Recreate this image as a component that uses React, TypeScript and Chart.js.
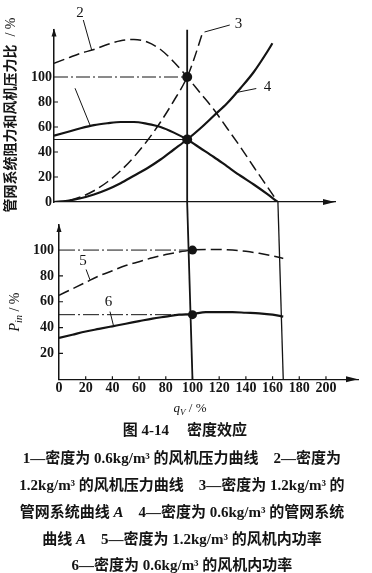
import React, { useEffect, useRef } from 'react';
import { Chart, registerables } from 'chart.js';

Chart.register(...registerables);

// ---------- data: top chart (pressure ratio vs flow) ----------
const Q_FAN = [0, 10, 20, 30, 40, 50, 60, 70, 80, 90, 100, 110, 120, 130, 140, 150, 160, 168];
const FAN_P_06 = [53, 56, 59, 61.5, 63, 64, 64, 62.5, 60, 55.5, 50, 43, 36, 28.5, 21, 14, 6.5, 0];
const FAN_P_12 = [111, 115, 119, 122, 126, 129, 130, 128, 122, 112, 100, 87, 74, 59, 44, 28, 12.5, 0];
const Q_SYS_12 = [0, 10, 20, 30, 40, 50, 60, 70, 80, 90, 100, 105, 112];
const SYS_12 = [0, 1, 4, 9, 16, 25, 36, 49, 64, 81, 100, 114, 137];
const Q_SYS_06 = [0, 10, 20, 30, 40, 50, 60, 70, 80, 90, 100, 110, 120, 130, 140, 150, 160, 164];
const SYS_06 = [0, 1, 3, 6, 10, 15, 21, 27, 34, 42, 50, 59, 69, 79, 91, 104, 120, 127];

// ---------- data: bottom chart (internal power vs flow) ----------
const Q_POW = [0, 10, 20, 30, 40, 50, 60, 70, 80, 90, 100, 110, 120, 130, 140, 150, 160, 168];
const POW_12 = [65, 70, 75, 80, 84, 88, 91, 94, 96.5, 98.5, 100, 100.5, 100.5, 100, 99, 97.5, 95.5, 93.5];
const POW_06 = [32, 34.5, 37, 39, 41, 43, 45, 47, 48.5, 50, 50.5, 52, 52, 52, 51.5, 51, 50, 48.5];

// reference values
const Q_OP = 100;
const Q_ZERO = 168;
const LEVEL_HI = 100;
const LEVEL_LO = 50;

// axes
const TOP_X_MAX = 211;
const TOP_Y_MAX = 138;
const BOT_X_MAX = 224;
const BOT_Y_MAX = 119.4;
const TOP_Y_TICKS = [0, 20, 40, 60, 80, 100];
const BOT_Y_TICKS = [20, 40, 60, 80, 100];
const X_TICKS = [0, 20, 40, 60, 80, 100, 120, 140, 160, 180, 200];

// curve labels (data units) and leader lines
const TOP_LABEL_TEXT = ['2', '3', '4'];
const TOP_LABEL_X = [19.5, 138.5, 160.4];
const TOP_LABEL_Y = [151, 142, 92.2];
const TOP_LEADERS = [
  [22, 145.6, 28.3, 121.6],
  [15.8, 91, 27, 61.6],
  [113, 136, 132, 141.6],
  [136, 87.4, 151.9, 90.8],
];
const BOT_LABEL_TEXT = ['5', '6'];
const BOT_LABEL_X = [18, 37];
const BOT_LABEL_Y = [91.2, 59.7];
const BOT_LEADERS = [
  [20.3, 85, 23.2, 77],
  [38.2, 52.4, 40.7, 42],
];

const CAPTION_TITLE = ['图 4-14', '密度效应'];
const CAPTION_LINES = [
  '1—密度为 0.6kg/m³ 的风机压力曲线\u20032—密度为',
  '1.2kg/m³ 的风机压力曲线\u20033—密度为 1.2kg/m³ 的',
  '管网系统曲线 A\u20034—密度为 0.6kg/m³ 的管网系统',
  '曲线 A\u20035—密度为 1.2kg/m³ 的风机内功率',
  '6—密度为 0.6kg/m³ 的风机内功率',
];
const CAPTION_Y = [458, 485, 512, 539, 565];

const INK = '#141414';
const SERIF = '"Liberation Serif", "Times New Roman", serif';
const CJK = '"Liberation Serif", "Noto Sans CJK SC", sans-serif';

const pts = (xs: number[], ys: number[]) => xs.map((x, i) => ({ x, y: ys[i] }));
const seg = (x1: number, y1: number, x2: number, y2: number) => [
  { x: x1, y: y1 },
  { x: x2, y: y2 },
];

const lineDs = (data: any[], width: number, dash: number[] = [], extra: any = {}) => ({
  data,
  borderColor: INK,
  borderWidth: width,
  borderDash: dash,
  pointRadius: 0,
  fill: false,
  tension: 0,
  ...extra,
});

const curveDs = (data: any[], width: number, dash: number[] = []) =>
  lineDs(data, width, dash, { cubicInterpolationMode: 'monotone' });

const dotDs = (data: any[], r: number) => ({
  data,
  showLine: false,
  pointRadius: r,
  pointBackgroundColor: INK,
  pointBorderWidth: 0,
  borderColor: INK,
  clip: false,
});

function decor(opts: {
  yTicks: number[];
  xTicks: number[];
  labels: { t: string[]; x: number[]; y: number[] };
  leaders: number[][];
  yArrow: number;
  xArrowLen: number;
}) {
  return {
    id: 'decor',
    afterDraw(chart: any) {
      const { ctx, chartArea } = chart;
      const xs = chart.scales.x;
      const ys = chart.scales.y;
      const x0 = chartArea.left;
      const y0 = chartArea.bottom;
      ctx.save();
      ctx.fillStyle = INK;
      ctx.strokeStyle = INK;
      // x arrow
      ctx.beginPath();
      ctx.moveTo(chartArea.right, y0);
      ctx.lineTo(chartArea.right - opts.xArrowLen, y0 - 3);
      ctx.lineTo(chartArea.right - opts.xArrowLen, y0 + 3);
      ctx.closePath();
      ctx.fill();
      // y arrow
      ctx.beginPath();
      ctx.moveTo(x0, chartArea.top - 1);
      ctx.lineTo(x0 - 2.5, chartArea.top + opts.yArrow);
      ctx.lineTo(x0 + 2.5, chartArea.top + opts.yArrow);
      ctx.closePath();
      ctx.fill();
      // inward ticks
      ctx.lineWidth = 1.2;
      ctx.beginPath();
      opts.yTicks.forEach((v) => {
        const py = ys.getPixelForValue(v);
        ctx.moveTo(x0, py);
        ctx.lineTo(x0 + 4, py);
      });
      opts.xTicks.forEach((v) => {
        const px = xs.getPixelForValue(v);
        ctx.moveTo(px, y0);
        ctx.lineTo(px, y0 - 3);
      });
      ctx.stroke();
      // leaders
      ctx.lineWidth = 1;
      ctx.beginPath();
      opts.leaders.forEach((l) => {
        ctx.moveTo(xs.getPixelForValue(l[0]), ys.getPixelForValue(l[1]));
        ctx.lineTo(xs.getPixelForValue(l[2]), ys.getPixelForValue(l[3]));
      });
      ctx.stroke();
      // labels
      ctx.font = '15px ' + SERIF;
      ctx.textAlign = 'center';
      ctx.textBaseline = 'middle';
      opts.labels.t.forEach((t, i) => {
        ctx.fillText(t, xs.getPixelForValue(opts.labels.x[i]), ys.getPixelForValue(opts.labels.y[i]));
      });
      ctx.restore();
    },
  };
}

const tickFont = { family: SERIF, weight: 'bold' as const, size: 14 };
const noGrid = { display: false, drawTicks: false, tickLength: 0 };

function topConfig(): any {
  return {
    type: 'line',
    data: {
      datasets: [
        lineDs(seg(0, LEVEL_HI, Q_OP, LEVEL_HI), 1, [14, 3, 2, 3]),
        lineDs(seg(0, LEVEL_LO, Q_OP, LEVEL_LO), 1),
        lineDs(seg(Q_OP, 0, Q_OP, TOP_Y_MAX), 1.8),
        curveDs(pts(Q_FAN, FAN_P_06), 2.2),
        curveDs(pts(Q_FAN, FAN_P_12), 1.5, [11, 5]),
        curveDs(pts(Q_SYS_12, SYS_12), 1.5, [11, 5]),
        curveDs(pts(Q_SYS_06, SYS_06), 2.2),
        dotDs([{ x: Q_OP, y: LEVEL_HI }, { x: Q_OP, y: LEVEL_LO }], 5),
      ],
    },
    options: {
      responsive: false,
      animation: false,
      events: [],
      layout: { padding: { left: 0, top: 29.5, right: 37, bottom: 371 } },
      plugins: { legend: { display: false }, tooltip: { enabled: false } },
      scales: {
        x: {
          type: 'linear',
          min: 0,
          max: TOP_X_MAX,
          grid: noGrid,
          border: { display: true, color: INK, width: 1.2, dash: [12, 3, 2, 3] },
          ticks: { display: false },
          afterFit: (s: any) => {
            s.height = 0;
          },
        },
        y: {
          type: 'linear',
          min: 0,
          max: TOP_Y_MAX,
          grid: noGrid,
          border: { display: true, color: INK, width: 1.5 },
          ticks: { color: INK, font: tickFont, padding: 2 },
          afterBuildTicks: (s: any) => {
            s.ticks = TOP_Y_TICKS.map((v) => ({ value: v }));
          },
          afterFit: (s: any) => {
            s.width = 54;
          },
        },
      },
    },
    plugins: [
      decor({
        yTicks: [20, 40, 60, 80],
        xTicks: [],
        labels: { t: TOP_LABEL_TEXT, x: TOP_LABEL_X, y: TOP_LABEL_Y },
        leaders: TOP_LEADERS,
        yArrow: 7,
        xArrowLen: 12,
      }),
    ],
  };
}

function botConfig(): any {
  const topEdge = 137.4; // value at the upper chart's baseline
  return {
    type: 'line',
    data: {
      datasets: [
        lineDs(seg(0, LEVEL_HI, Q_OP, LEVEL_HI), 1, [16, 3, 2, 3]),
        lineDs(seg(0, LEVEL_LO, Q_OP, LEVEL_LO), 1, [16, 3, 2, 3]),
        lineDs(seg(Q_OP, 0, Q_OP - 4, topEdge), 1.8, [], { clip: false }),
        lineDs(seg(Q_ZERO, 0, Q_ZERO - 4, topEdge), 1.3, [], { clip: false }),
        curveDs(pts(Q_POW, POW_12), 1.5, [11, 5]),
        curveDs(pts(Q_POW, POW_06), 2.2),
        dotDs([{ x: Q_OP, y: LEVEL_HI }, { x: Q_OP, y: LEVEL_LO }], 4.5),
      ],
    },
    options: {
      responsive: false,
      animation: false,
      events: [],
      layout: { padding: { left: 0, top: 225, right: 14, bottom: 173.7 } },
      plugins: { legend: { display: false }, tooltip: { enabled: false } },
      scales: {
        x: {
          type: 'linear',
          min: 0,
          max: BOT_X_MAX,
          grid: noGrid,
          border: { display: true, color: INK, width: 1.3 },
          ticks: { color: INK, font: tickFont, padding: 1, maxRotation: 0 },
          afterBuildTicks: (s: any) => {
            s.ticks = X_TICKS.map((v) => ({ value: v }));
          },
          afterFit: (s: any) => {
            s.height = 20;
          },
        },
        y: {
          type: 'linear',
          min: 0,
          max: BOT_Y_MAX,
          grid: noGrid,
          border: { display: true, color: INK, width: 1.5 },
          ticks: { color: INK, font: tickFont, padding: 5 },
          afterBuildTicks: (s: any) => {
            s.ticks = BOT_Y_TICKS.map((v) => ({ value: v }));
          },
          afterFit: (s: any) => {
            s.width = 59;
          },
        },
      },
    },
    plugins: [
      decor({
        yTicks: [20, 40, 60, 80],
        xTicks: X_TICKS.slice(1),
        labels: { t: BOT_LABEL_TEXT, x: BOT_LABEL_X, y: BOT_LABEL_Y },
        leaders: BOT_LEADERS,
        yArrow: 7,
        xArrowLen: 12,
      }),
    ],
  };
}

function renderCaption(s: string) {
  const parts = s.split(/( A)/);
  return parts.map((p, i) =>
    p === ' A' ? (
      <i key={i}> A</i>
    ) : (
      <span key={i}>{p}</span>
    )
  );
}

const abs: React.CSSProperties = { position: 'absolute' };

export default function App() {
  const topRef = useRef<HTMLCanvasElement>(null);
  const botRef = useRef<HTMLCanvasElement>(null);

  useEffect(() => {
    const top = new Chart(topRef.current as HTMLCanvasElement, topConfig());
    const bot = new Chart(botRef.current as HTMLCanvasElement, botConfig());
    return () => {
      top.destroy();
      bot.destroy();
    };
  }, []);

  const rotated = (cx: number, cy: number): React.CSSProperties => ({
    ...abs,
    left: cx,
    top: cy,
    transform: 'translate(-50%, -50%) rotate(-90deg)',
    whiteSpace: 'nowrap',
  });

  return (
    <div
      style={{
        position: 'absolute',
        left: 0,
        top: 0,
        width: 372,
        height: 573,
        background: '#fff',
        overflow: 'hidden',
        color: INK,
      }}
    >
      <canvas ref={topRef} width={372} height={573} style={{ ...abs, left: 0, top: 0 }} />
      <canvas ref={botRef} width={372} height={573} style={{ ...abs, left: 0, top: 0 }} />

      <div style={{ ...rotated(10, 114.5), font: 'bold 14px "Noto Sans CJK SC", sans-serif', lineHeight: '16px' }}>
        管网系统阻力和风机压力比
        <span style={{ fontFamily: SERIF, fontWeight: 'normal', marginLeft: 8 }}>/ %</span>
      </div>

      <div style={{ ...rotated(17, 312), fontFamily: SERIF, fontSize: 14, lineHeight: '16px' }}>
        <i>P</i>
        <sub style={{ fontSize: 10, fontStyle: 'italic' }}>in</sub>
        <span> / %</span>
      </div>

      <div
        style={{
          ...abs,
          left: 190,
          top: 410,
          transform: 'translate(-50%, -50%)',
          whiteSpace: 'nowrap',
          fontFamily: SERIF,
          fontSize: 13,
          lineHeight: '15px',
        }}
      >
        <i>q</i>
        <sub style={{ fontSize: 9, fontStyle: 'italic' }}>V</sub>
        <span> / %</span>
      </div>

      <div
        style={{
          ...abs,
          left: 185,
          top: 430,
          transform: 'translate(-50%, -50%)',
          whiteSpace: 'nowrap',
          fontFamily: CJK,
          fontWeight: 'bold',
          fontSize: 15,
          lineHeight: '18px',
        }}
      >
        <span>{CAPTION_TITLE[0]}</span>
        <span style={{ marginLeft: 18 }}>{CAPTION_TITLE[1]}</span>
      </div>

      {CAPTION_LINES.map((line, i) => (
        <div
          key={i}
          style={{
            ...abs,
            left: 182,
            top: CAPTION_Y[i],
            transform: 'translate(-50%, -50%)',
            whiteSpace: 'nowrap',
            fontFamily: CJK,
            fontWeight: 'bold',
            fontSize: 15,
            lineHeight: '18px',
          }}
        >
          {renderCaption(line)}
        </div>
      ))}
    </div>
  );
}
